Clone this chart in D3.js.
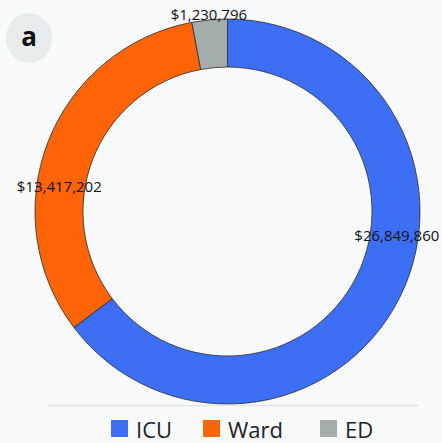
<!DOCTYPE html>
<html>
<head>
<meta charset="utf-8">
<script src="https://cdn.jsdelivr.net/npm/d3@7"></script>
<style>
  html, body { margin: 0; padding: 0; background: #f8f9fb; }
  svg { display: block; }
</style>
</head>
<body>
<svg></svg>
<script>
var categories = ["ICU", "Ward", "ED"];
var costs = [26849860, 13417202, 1230796];
var colors = ["#3d6ff6", "#ff6406", "#a5acac"];

var svgWidth = 442, svgHeight = 443;
var cx = 227.5, cy = 211.5;
var outerR = 192.5, innerR = 144.5;

var svg = d3.select("svg")
    .attr("width", svgWidth)
    .attr("height", svgHeight);

svg.append("rect")
    .attr("width", "100%")
    .attr("height", "100%")
    .attr("fill", "#f8f9fb");

var data = categories.map(function (c, i) { return { name: c, value: costs[i], color: colors[i] }; });

var pie = d3.pie()
    .value(function (d) { return d.value; })
    .sort(null);

var arc = d3.arc()
    .innerRadius(innerR)
    .outerRadius(outerR);

var g = svg.append("g")
    .attr("transform", "translate(" + cx + "," + cy + ")");

var arcs = pie(data);

g.selectAll("path")
    .data(arcs)
    .enter().append("path")
    .attr("d", arc)
    .attr("fill", function (d) { return d.data.color; })
    .style("stroke", "#2a2a2a")
    .style("stroke-width", "0.8");

// label placement (Excel "best fit" look): angle + radius per slice
var fmt = d3.format("$,");
var labelPos = [
  { a: 98, r: 171 },
  { a: -81.7, r: 170 },
  { a: -5.4, r: 198 }
];

g.selectAll("text.lbl")
    .data(arcs)
    .enter().append("text")
    .attr("class", "lbl")
    .attr("x", function (d, i) { return labelPos[i].r * Math.sin(labelPos[i].a * Math.PI / 180); })
    .attr("y", function (d, i) { return -labelPos[i].r * Math.cos(labelPos[i].a * Math.PI / 180); })
    .attr("dy", "0.35em")
    .attr("text-anchor", "middle")
    .style("font-family", "'Liberation Sans Narrow', 'Open Sans', sans-serif")
    .style("font-size", "15px")
    .style("fill", "#111")
    .text(function (d) { return fmt(d.data.value); });

// badge
svg.append("ellipse")
    .attr("cx", 29)
    .attr("cy", 38)
    .attr("rx", 23)
    .attr("ry", 25)
    .attr("fill", "#e7ebeb");

svg.append("text")
    .attr("x", 29)
    .attr("y", 46)
    .attr("text-anchor", "middle")
    .style("font-family", "'Open Sans', sans-serif")
    .style("font-weight", "bold")
    .style("font-size", "26px")
    .style("fill", "#111")
    .text("a");

// separator
svg.append("line")
    .attr("x1", 47)
    .attr("x2", 418)
    .attr("y1", 405.5)
    .attr("y2", 405.5)
    .style("stroke", "#dfe5e5")
    .style("stroke-width", "1.5");

// legend
var legendX = [111, 203, 320];
var legend = svg.selectAll("g.leg")
    .data(data)
    .enter().append("g")
    .attr("class", "leg")
    .attr("transform", function (d, i) { return "translate(" + legendX[i] + ",420)"; });

legend.append("rect")
    .attr("width", 17)
    .attr("height", 17)
    .attr("fill", function (d) { return d.color; });

legend.append("text")
    .attr("x", 25)
    .attr("y", 18)
    .style("font-family", "'Open Sans', sans-serif")
    .style("font-size", "22px")
    .style("fill", "#1e2222")
    .text(function (d) { return d.name; });
</script>
</body>
</html>
